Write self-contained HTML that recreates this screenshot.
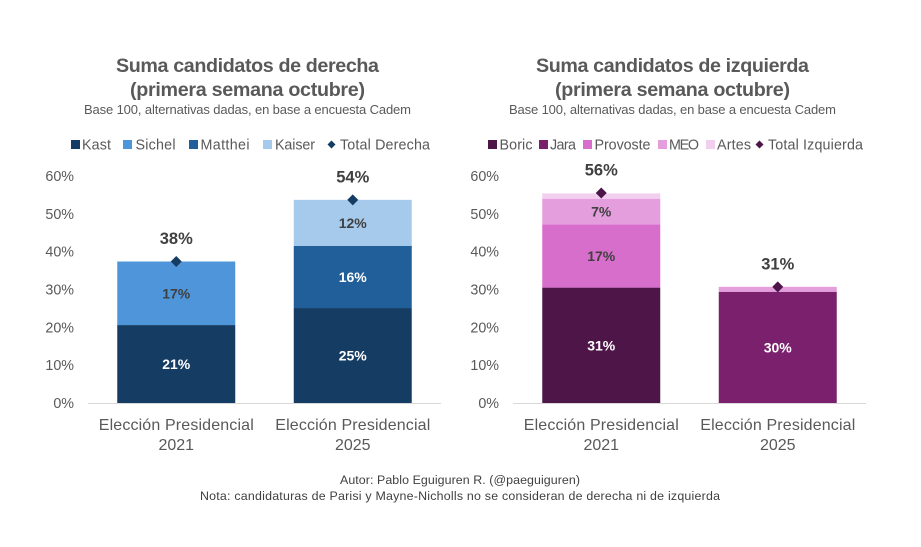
<!DOCTYPE html>
<html lang="es">
<head>
<meta charset="utf-8">
<title>Suma candidatos de derecha e izquierda</title>
<style>
html,body{margin:0;padding:0;background:#fff;width:921px;height:547px;overflow:hidden}
svg{display:block;font-family:"Liberation Sans",Arial,sans-serif}
</style>
</head>
<body>
<svg id="root" width="921" height="547" viewBox="0 0 921 547" xmlns="http://www.w3.org/2000/svg">
  <rect width="921" height="547" fill="#fff"/>

  <g text-anchor="middle">
    <text x="247.5" y="72" font-size="19.7" font-weight="700" fill="#595959" textLength="263">Suma candidatos de derecha</text>
    <text x="247.5" y="96" font-size="19.7" font-weight="700" fill="#595959" textLength="235">(primera semana octubre)</text>
    <text x="247.5" y="114" font-size="13" fill="#595959" textLength="327">Base 100, alternativas dadas, en base a encuesta Cadem</text>
  </g>
  <g text-anchor="middle">
    <text x="672.5" y="72" font-size="19.7" font-weight="700" fill="#595959" textLength="273">Suma candidatos de izquierda</text>
    <text x="672.5" y="96" font-size="19.7" font-weight="700" fill="#595959" textLength="235">(primera semana octubre)</text>
    <text x="672.5" y="114" font-size="13" fill="#595959" textLength="327">Base 100, alternativas dadas, en base a encuesta Cadem</text>
  </g>

  <g font-size="14.3" fill="#595959">
    <g><rect x="71" y="140" width="9" height="9" fill="#153D64"/><text x="82" y="149.5" textLength="29">Kast</text></g>
    <g><rect x="123" y="140" width="9" height="9" fill="#4E95D9"/><text x="135.5" y="149.5" textLength="40">Sichel</text></g>
    <g><rect x="189" y="140" width="9" height="9" fill="#215F9A"/><text x="200.5" y="149.5" textLength="49">Matthei</text></g>
    <g><rect x="263" y="140" width="9" height="9" fill="#A6CAEC"/><text x="275" y="149.5" textLength="40">Kaiser</text></g>
    <g><path d="M331.5 140.5l4 4-4 4-4-4z" fill="#153D64"/><text x="340" y="149.5" textLength="90">Total Derecha</text></g>
  </g>
  <g font-size="14.3" fill="#595959">
    <g><rect x="488" y="140" width="9" height="9" fill="#4E1548"/><text x="499.5" y="149.5" textLength="33">Boric</text></g>
    <g><rect x="539" y="140" width="9" height="9" fill="#7A206C"/><text x="550" y="149.5" textLength="26">Jara</text></g>
    <g><rect x="583" y="140" width="9" height="9" fill="#D86ECC"/><text x="594.5" y="149.5" textLength="56">Provoste</text></g>
    <g><rect x="658" y="140" width="9" height="9" fill="#E49EDD"/><text x="669" y="149.5" textLength="30">MEO</text></g>
    <g><rect x="706" y="140" width="9" height="9" fill="#F2CEEF"/><text x="717" y="149.5" textLength="34">Artes</text></g>
    <g><path d="M759.5 140.5l4 4-4 4-4-4z" fill="#4E1548"/><text x="768" y="149.5" textLength="95">Total Izquierda</text></g>
  </g>

  <g id="left-plot"></g>
  <g id="right-plot"></g>

  <g text-anchor="middle" font-size="12.4" fill="#404040">
    <text x="460" y="484" textLength="240">Autor: Pablo Eguiguren R. (@paeguiguren)</text>
    <text x="460" y="500" textLength="520">Nota: candidaturas de Parisi y Mayne-Nicholls no se consideran de derecha ni de izquierda</text>
  </g>
</svg>

<script>
const categories = ['2021', '2025'];
const categoryPrefix = 'Elección Presidencial';
const axisTicks = [0, 10, 20, 30, 40, 50, 60];

const kastValues = [20.6, 25.1];
const sichelValues = [16.8, 0];
const mattheiValues = [0, 16.4];
const kaiserValues = [0, 12.2];
const totalDerecha = [37.4, 53.7];
const totalDerechaLabels = ['38%', '54%'];
const kastLabels = ['21%', '25%'];
const sichelLabels = ['17%', ''];
const mattheiLabels = ['', '16%'];
const kaiserLabels = ['', '12%'];

const boricValues = [30.5, 0];
const jaraValues = [0, 29.4];
const provosteValues = [16.7, 0];
const meoValues = [6.8, 1.3];
const artesValues = [1.4, 0];
const totalIzquierda = [55.5, 30.7];
const totalIzquierdaLabels = ['56%', '31%'];
const boricLabels = ['31%', ''];
const jaraLabels = ['', '30%'];
const provosteLabels = ['17%', ''];
const meoLabels = ['7%', ''];
const artesLabels = ['', ''];

const NS = 'http://www.w3.org/2000/svg';
const yBase = 403;
const yTop = 176;
const yMax = 60;
const yScale = v => yBase - (v / yMax) * (yBase - yTop);
const xCenter = (axisLeft, i) => axisLeft + 88.25 + i * 176.5;
const barWidth = 118;

function mk(parent, tag, attrs, text) {
  const el = document.createElementNS(NS, tag);
  for (const k of Object.keys(attrs)) el.setAttribute(k, attrs[k]);
  if (text !== undefined) el.textContent = text;
  parent.appendChild(el);
  return el;
}

function drawPlot(parent, axisLeft, tickRight, series, totals, totalLabels, diamondColor, prefix) {
  axisTicks.forEach(t => {
    const el = mk(parent, 'text', {x: tickRight, y: yScale(t) + 5, 'text-anchor': 'end', 'font-size': 14.3, fill: '#595959'}, t + '%');
    
    
  });
  const axisLine = mk(parent, 'rect', {x: axisLeft, y: yBase, width: 353, height: 1, fill: '#D9D9D9'});
  
  

  categories.forEach((cat, i) => {
    const cx = xCenter(axisLeft, i);
    let cum = 0;
    series.forEach(s => {
      const v = s.values[i];
      if (v > 0) {
        const top = yScale(cum + v);
        const bottom = yScale(cum);
        const bar = mk(parent, 'rect', {x: cx - barWidth / 2, y: top, width: barWidth, height: bottom - top, fill: s.color});
        
        
        if (s.labels[i]) {
          const lab = mk(parent, 'text', {x: cx, y: (top + bottom) / 2 + 5, 'text-anchor': 'middle', 'font-size': 14, 'font-weight': 700, fill: s.labelColor}, s.labels[i]);
          
          
        }
      }
      cum += v;
    });
  });

  categories.forEach((cat, i) => {
    const cx = xCenter(axisLeft, i);
    const ty = yScale(totals[i]);
    const d = mk(parent, 'path', {d: `M${cx} ${ty - 5.5}l5.5 5.5-5.5 5.5-5.5-5.5z`, fill: diamondColor});
    
    
    const tl = mk(parent, 'text', {x: cx, y: ty - 17.5, 'text-anchor': 'middle', 'font-size': 16.5, 'font-weight': 700, fill: '#404040'}, totalLabels[i]);
    
    
    const c1 = mk(parent, 'text', {x: cx, y: 430, 'text-anchor': 'middle', 'font-size': 16, fill: '#595959', textLength: 155}, categoryPrefix);
    
    
    const c2 = mk(parent, 'text', {x: cx, y: 450, 'text-anchor': 'middle', 'font-size': 16, fill: '#595959'}, cat);
    
    
  });
}

drawPlot(document.getElementById('left-plot'), 88, 74, [
  {name: 'kast', values: kastValues, labels: kastLabels, color: '#153D64', labelColor: '#fff'},
  {name: 'sichel', values: sichelValues, labels: sichelLabels, color: '#4E95D9', labelColor: '#404040'},
  {name: 'matthei', values: mattheiValues, labels: mattheiLabels, color: '#215F9A', labelColor: '#fff'},
  {name: 'kaiser', values: kaiserValues, labels: kaiserLabels, color: '#A6CAEC', labelColor: '#404040'}
], totalDerecha, totalDerechaLabels, '#153D64', 'derecha');

drawPlot(document.getElementById('right-plot'), 513, 499, [
  {name: 'boric', values: boricValues, labels: boricLabels, color: '#4E1548', labelColor: '#fff'},
  {name: 'jara', values: jaraValues, labels: jaraLabels, color: '#7A206C', labelColor: '#fff'},
  {name: 'provoste', values: provosteValues, labels: provosteLabels, color: '#D86ECC', labelColor: '#404040'},
  {name: 'meo', values: meoValues, labels: meoLabels, color: '#E49EDD', labelColor: '#404040'},
  {name: 'artes', values: artesValues, labels: artesLabels, color: '#F2CEEF', labelColor: '#404040'}
], totalIzquierda, totalIzquierdaLabels, '#4E1548', 'izquierda');
</script>
</body>
</html>
